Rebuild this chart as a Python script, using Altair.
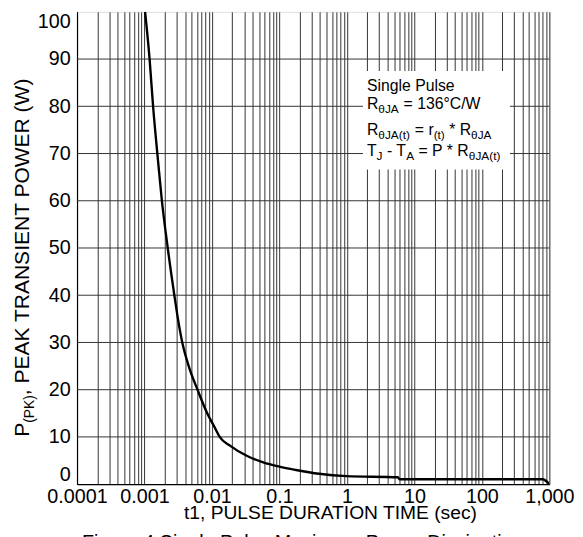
import altair as alt
import pandas as pd

# ---- data ----
pulse_time = [0.00102, 0.00119, 0.00134, 0.00155, 0.00181, 0.00221, 0.00277, 0.00313,
              0.00363, 0.00452, 0.0061, 0.0085, 0.0110, 0.0130, 0.0187, 0.0327,
              0.0575, 0.10, 0.176, 0.385, 0.98, 5.7, 6.0, 794, 1000]
peak_power = [100, 90, 80, 70, 60, 50, 40, 35,
              30, 25, 20, 15, 12, 10, 8.1, 6.0,
              4.6, 3.7, 3.0, 2.2, 1.7, 1.45, 1.05, 1.05, 0]

x_decades = [0.0001, 0.001, 0.01, 0.1, 1, 10, 100, 1000]
x_grid = [m * d for d in x_decades[:-1] for m in range(1, 10)] + [1000]
y_ticks = [0, 10, 20, 30, 40, 50, 60, 70, 80, 90, 100]
y_grid = [10, 20, 30, 40, 50, 60, 70, 80, 90]

FONT = "Liberation Sans"
GRID = "#333333"

W, H = 479, 479

df = pd.DataFrame({"t": pulse_time, "p": peak_power})
one = pd.DataFrame({"k": [0]})

xscale = alt.Scale(type="log", domain=[0.0001, 1000], nice=False)
yscale = alt.Scale(domain=[0, 100], nice=False, zero=True)

label_expr = ("indexof(['0.0001','0.001','0.01','0.1','1','10','100','1000'], "
              "toString(datum.value)) >= 0 ? format(datum.value, ',~g') : ''")

curve = alt.Chart(df).mark_line(color="black", strokeWidth=2.4, clip=True,
                                interpolate="monotone").encode(
    x=alt.X("t:Q", scale=xscale,
            axis=alt.Axis(values=x_grid, labelExpr=label_expr, grid=True,
                          gridColor=GRID, gridOpacity=1, gridWidth=1,
                          ticks=False, domainColor="black", domainWidth=1.2,
                          labelFont=FONT, labelFontSize=20, labelColor="black",
                          labelPadding=3, labelFlush=False, labelOverlap=False,
                          title=None)),
    y=alt.Y("p:Q", scale=yscale,
            axis=alt.Axis(values=y_ticks, grid=False, ticks=False,
                          domainColor="black", domainWidth=1.2,
                          labelFont=FONT, labelFontSize=20, labelColor="black",
                          labelPadding=7, labelFlush=True, title=None)),
)

hgrid = alt.Chart(pd.DataFrame({"g": y_grid})).mark_rule(
    color=GRID, strokeWidth=1).encode(y=alt.Y("g:Q", scale=yscale))


def txt(s, x, y, size, angle=0, align="left", baseline="alphabetic"):
    return alt.Chart(one).mark_text(
        align=align, baseline=baseline, font=FONT, fontSize=size,
        angle=angle, color="black").encode(
        x=alt.value(x), y=alt.value(y), text=alt.value(s))


# character widths (em) of Liberation Sans, to chain sub/superscripted pieces
CW = {" ": .278, "(": .333, ")": .333, "*": .389, ",": .278, "-": .333,
      ".": .278, "/": .278, "=": .584, "°": .4, "θ": .6,
      "A": .667, "C": .722, "D": .722, "E": .667, "I": .278, "J": .5, "K": .667,
      "L": .556, "M": .833, "N": .722, "O": .778, "P": .667, "R": .722, "S": .667,
      "T": .611, "U": .722, "W": .944,
      "a": .556, "c": .5, "e": .556, "g": .556, "i": .222, "l": .222, "n": .556,
      "r": .333, "s": .5, "t": .278, "u": .556}


def tw(s, size):
    return sum(CW.get(ch, .556) for ch in s) * size


def rich_line(pieces, x0, y0, main=16, sub=12, drop=4):
    layers = []
    x = x0
    for s, is_sub in pieces:
        size = sub if is_sub else main
        lead = len(s) - len(s.lstrip(" "))
        x += lead * CW[" "] * size
        s = s.lstrip(" ")
        layers.append(txt(s, x, y0 + (drop if is_sub else 0), size))
        x += tw(s, size)
    return layers


# annotation box (white background over the grid)
box = alt.Chart(one).mark_rect(color="white").encode(
    x=alt.value(290), x2=alt.value(439), y=alt.value(60), y2=alt.value(160))

ann = [txt("Single Pulse", 294, 80, 16)]
ann += rich_line([("R", 0), ("θJA", 1), (" = 136°C/W", 0)], 294, 99)
ann += rich_line([("R", 0), ("θJA(t)", 1), (" = r", 0), ("(t)", 1), (" * R", 0),
                  ("θJA", 1)], 294, 125)
ann += rich_line([("T", 0), ("J", 1), (" - T", 0), ("A", 1), (" = P * R", 0),
                  ("θJA(t)", 1)], 294, 146)

# y-axis title with subscript, rotated
ymain, ysub = 21.3, 14
y0 = 431
yt = [txt("P", -49, y0, ymain, angle=270)]
y1 = y0 - tw("P", ymain)
yt.append(txt("(PK)", -44, y1, ysub, angle=270))
y2 = y1 - tw("(PK)", ysub)
yt.append(txt(",", -49, y2, ymain, angle=270))
y3 = y2 - tw(", ", ymain)
yt.append(txt("PEAK TRANSIENT POWER (W)", -49, y3, ymain, angle=270))

xt = txt("t1, PULSE DURATION TIME (sec)", 257, 514, 19.5, align="center")
cap = txt("Figure 4 Single Pulse Maximum Power Dissipation", 5, 545, 20)

chart = alt.layer(hgrid, curve, box, *ann, *yt, xt, cap).properties(
    width=W, height=H,
    autosize=alt.AutoSizeParams(type="none"),
    padding={"left": 70, "top": 0, "right": 26, "bottom": 70},
).configure_view(stroke=None).configure(background="white")

chart.save("out.html", embed_options={"renderer": "svg", "actions": False})
